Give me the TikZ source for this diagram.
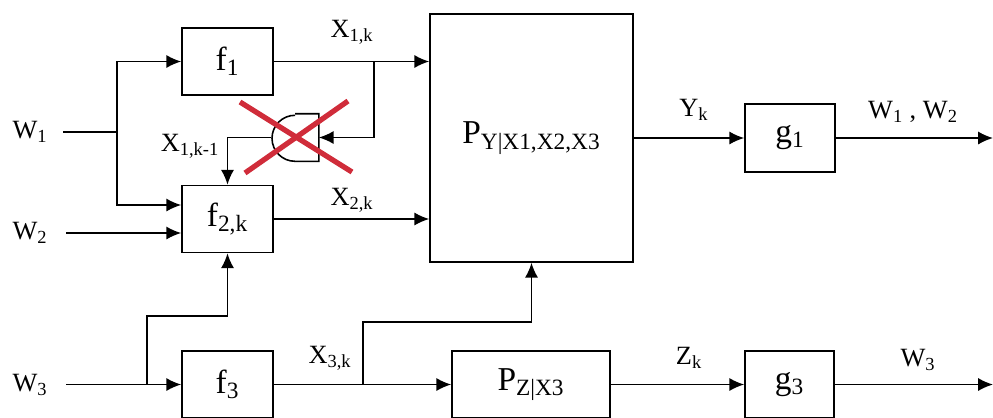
\documentclass[tikz,border=0pt]{standalone}
\usepackage{fontspec}
\setmainfont{Liberation Serif}
\usetikzlibrary{arrows.meta,positioning,calc}
\definecolor{crossred}{RGB}{208,44,58}

\begin{document}
\begin{tikzpicture}[x=0.02cm,y=-0.02cm,>={Latex[length=8.5pt,width=7.5pt]},line width=0.9pt,
  blk/.style={draw,minimum width=1.82cm,minimum height=1.34cm,inner sep=0pt,font=\fontsize{19}{22}\selectfont},
  lbl/.style={font=\fontsize{15}{18}\selectfont,inner sep=0pt}]
  \useasboundingbox (0,0) rectangle (993,417);
  % blocks
  \node[blk] (f1) at (227.5,61.5) {f\textsubscript{1}};
  \node[blk] (f2) at (227.5,219) {f\textsubscript{2,k}};
  \node[blk] (f3) at (227.5,384.5) {f\textsubscript{3}};
  \node[blk,minimum width=4.06cm,minimum height=4.96cm] (P) at (531.5,138) {P\textsubscript{Y|X1,X2,X3}};
  \node[blk,minimum width=3.16cm] (pz) at (531,384.5) {P\textsubscript{Z|X3}};
  \node[blk,minimum width=1.8cm,minimum height=1.36cm] (g1) at (790,138) {g\textsubscript{1}};
  \node[blk,minimum width=1.78cm] (g3) at (789.5,384.5) {g\textsubscript{3}};
  % delay element
  \node[minimum width=0.92cm,minimum height=0.92cm,inner sep=0pt] (dly) at (295,137.5) {};
  \draw (dly.north) -- (dly.north east) -- (dly.south east) -- (dly.south) arc[start angle=90,end angle=270,radius=23];
  % inputs
  \node[lbl] (w1) at (30,132) {W\textsubscript{1}};
  \node[lbl] (w2) at (30,233) {W\textsubscript{2}};
  \node[lbl] (w3) at (30,385) {W\textsubscript{3}};
  \coordinate (w1in) at (63,132);
  \coordinate (br1) at (117,132);
  \coordinate (w2in) at (66,233);
  \coordinate (w3in) at (66,384.5);
  \coordinate (br3) at (147,384.5);
  \coordinate (br2) at (374,61.5);
  \coordinate (br4) at (363,384.5);
  \coordinate (out1) at (993,138);
  \coordinate (out3) at (993,384.5);
  % connectors
  \draw (w1in) -- (br1);
  \draw[->] (br1) |- (f1.west);
  \draw[->] (br1) |- ($(f2.west)+(0,-14)$);
  \draw[->] (w2in) -- ($(f2.west)+(0,14)$);
  \draw[->] (w3in) -- (f3.west);
  \draw[->] (br3) -- ++(0,-68.5) -| (f2.south);
  \draw[->] (f1.east) -- (f1.east -| P.west);
  \draw[->] (br2) |- (dly.east);
  \draw[->] (dly.west) -| (f2.north);
  \draw[->] (f2.east) -- (f2.east -| P.west);
  \draw[->] (f3.east) -- (pz.west);
  \draw[->] (br4) -- ++(0,-62.5) -| (P.south);
  \draw[->] (P.east) -- (g1.west);
  \draw[->] (g1.east) -- (out1);
  \draw[->] (pz.east) -- (g3.west);
  \draw[->] (g3.east) -- (out3);
  % signal labels
  \node[lbl] (x1k) at (352,32) {X\textsubscript{1,k}};
  \node[lbl] (x1km) at (190,146) {X\textsubscript{1,k-1}};
  \node[lbl] (x2k) at (352,200) {X\textsubscript{2,k}};
  \node[lbl] (x3k) at (330,358) {X\textsubscript{3,k}};
  \node[lbl] (yk) at (694,110) {Y\textsubscript{k}};
  \node[lbl] (w12) at (913,112) {W\textsubscript{1} , W\textsubscript{2}};
  \node[lbl] (zk) at (689,358) {Z\textsubscript{k}};
  \node[lbl] (w3o) at (918,360) {W\textsubscript{3}};
  % red cross over the delay
  \draw[crossred,line width=3pt] (240,102) -- (352,172);
  \draw[crossred,line width=3pt] (348,101) -- (245,173);
\end{tikzpicture}
\end{document}
